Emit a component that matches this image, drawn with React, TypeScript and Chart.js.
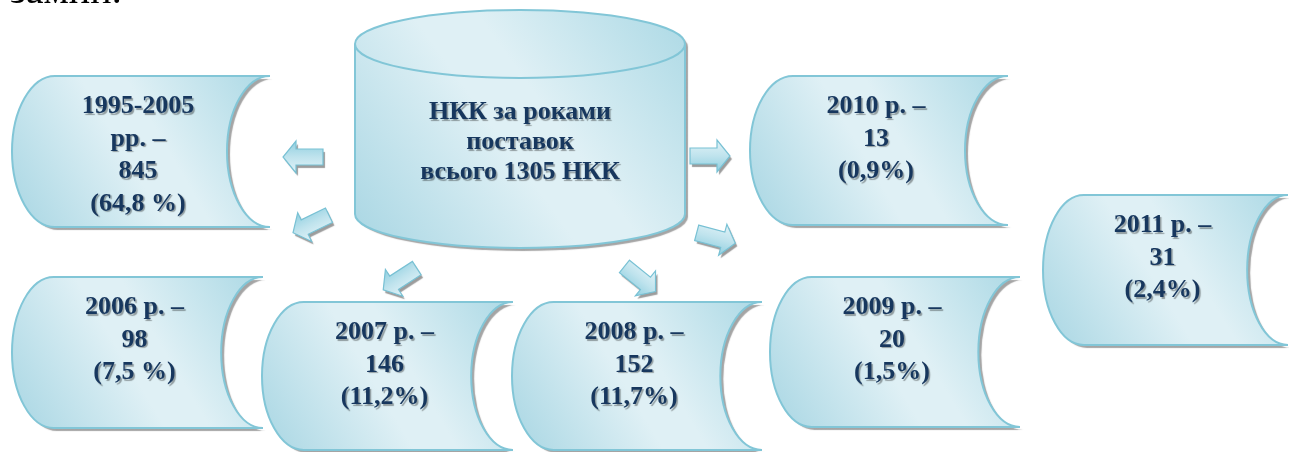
import React, { useEffect, useRef } from "react";
import { Chart, registerables } from "chart.js";

Chart.register(...registerables);

// ---- data ----
const periods = ["1995-2005", "2006", "2007", "2008", "2009", "2010", "2011"];
const periodUnits = ["рр.", "р.", "р.", "р.", "р.", "р.", "р."];
const counts = [845, 98, 146, 152, 20, 13, 31];
const shares = ["64,8 %", "7,5 %", "11,2%", "11,7%", "1,5%", "0,9%", "2,4%"];
const totalCount = 1305;
const centreTitle = ["НКК за роками", "поставок", `всього ${totalCount} НКК`];
const topFragment = "замин.";

// ---- layout (diagram coordinates, styling only) ----
const boxLayout = [
  { x0: 12, y0: 76, x1: 270, y1: 227, wrap: true },
  { x0: 12, y0: 277, x1: 263, y1: 428, wrap: false },
  { x0: 262, y0: 302, x1: 513, y1: 450, wrap: false },
  { x0: 512, y0: 302, x1: 762, y1: 450, wrap: false },
  { x0: 770, y0: 277, x1: 1020, y1: 427, wrap: false },
  { x0: 750, y0: 76, x1: 1008, y1: 225, wrap: false },
  { x0: 1043, y0: 195, x1: 1288, y1: 345, wrap: false },
];
const cylinderLayout = { x0: 355, x1: 685, yTop: 44, yBottom: 214, ry: 34 };
const arrowLayout = [
  { x: 303, y: 157, angle: 180 },
  { x: 311, y: 224, angle: 154 },
  { x: 400, y: 279, angle: 147 },
  { x: 640, y: 279, angle: 39 },
  { x: 710, y: 156, angle: 0 },
  { x: 716, y: 238, angle: 15 },
];

const TEXT_COLOR = "#17375e";
const BORDER = "#82c6d7";
const FONT = '"Liberation Serif", "Times New Roman", serif';

function boxLines(i: number): string[] {
  const l = boxLayout[i];
  if (l.wrap) {
    return [periods[i], `${periodUnits[i]} –`, `${counts[i]}`, `(${shares[i]})`];
  }
  return [`${periods[i]} ${periodUnits[i]} –`, `${counts[i]}`, `(${shares[i]})`];
}

function storedDataPath(ctx: CanvasRenderingContext2D, x0: number, y0: number, x1: number, y1: number) {
  const w = x1 - x0;
  const h = y1 - y0;
  const rx = w / 6;
  const ry = h / 2;
  const ym = (y0 + y1) / 2;
  ctx.beginPath();
  ctx.moveTo(x0 + rx, y0);
  ctx.lineTo(x1, y0);
  ctx.ellipse(x1, ym, rx, ry, 0, -Math.PI / 2, Math.PI / 2, true);
  ctx.lineTo(x0 + rx, y1);
  ctx.ellipse(x0 + rx, ym, rx, ry, 0, Math.PI / 2, Math.PI * 1.5, false);
  ctx.closePath();
}

function shapeGradient(ctx: CanvasRenderingContext2D, x0: number, y0: number, x1: number, y1: number) {
  const g = ctx.createLinearGradient(x0, y1, x1, y0);
  g.addColorStop(0, "#a8d6e3");
  g.addColorStop(0.45, "#dff0f5");
  g.addColorStop(0.58, "#dff0f5");
  g.addColorStop(1, "#acd9e5");
  return g;
}

function setShadow(ctx: CanvasRenderingContext2D, dx: number, dy: number, blur: number, color: string) {
  ctx.shadowColor = color;
  ctx.shadowOffsetX = dx;
  ctx.shadowOffsetY = dy;
  ctx.shadowBlur = blur;
}

function drawLines(ctx: CanvasRenderingContext2D, lines: string[], cx: number, firstBaseline: number, step: number) {
  ctx.save();
  ctx.font = `bold 26px ${FONT}`;
  ctx.fillStyle = TEXT_COLOR;
  ctx.textAlign = "center";
  ctx.textBaseline = "alphabetic";
  setShadow(ctx, 1.5, 1.5, 1, "rgba(0,0,0,0.35)");
  lines.forEach((t, k) => ctx.fillText(t, cx, firstBaseline + k * step));
  ctx.restore();
}

const diagramPlugin = {
  id: "diagram",
  afterDatasetsDraw(chart: any) {
    const ctx: CanvasRenderingContext2D = chart.ctx;
    const sx = chart.scales.x;
    const sy = chart.scales.y;
    const px = (v: number) => sx.getPixelForValue(v);
    const py = (v: number) => sy.getPixelForValue(v);
    const kx = px(1) - px(0);
    const ky = py(1) - py(0);

    // top text fragment (cut by the top edge)
    ctx.save();
    ctx.font = `40px ${FONT}`;
    ctx.fillStyle = "#000";
    ctx.textBaseline = "alphabetic";
    ctx.fillText(topFragment, px(10), py(3));
    ctx.restore();

    // cylinder
    const cylMeta = chart.getDatasetMeta(2);
    const cEl = cylMeta.data[0];
    {
      const c = cylinderLayout;
      const cx = cEl.x;
      const rx = ((c.x1 - c.x0) / 2) * kx;
      const ry = c.ry * ky;
      const yt = py(c.yTop);
      const yb = py(c.yBottom);
      const xl = cx - rx;
      const xr = cx + rx;
      ctx.save();
      ctx.beginPath();
      ctx.moveTo(xl, yt);
      ctx.lineTo(xl, yb);
      ctx.ellipse(cx, yb, rx, ry, 0, Math.PI, 0, true);
      ctx.lineTo(xr, yt);
      ctx.ellipse(cx, yt, rx, ry, 0, 0, Math.PI, true);
      ctx.closePath();
      ctx.save();
      setShadow(ctx, 3, 3, 1, "rgba(90,90,90,0.55)");
      ctx.fillStyle = shapeGradient(ctx, xl, yt - ry, xr, yb + ry);
      ctx.fill();
      ctx.restore();
      ctx.lineWidth = 2;
      ctx.strokeStyle = BORDER;
      ctx.stroke();
      ctx.beginPath();
      ctx.ellipse(cx, yt, rx, ry, 0, 0, Math.PI, false);
      ctx.stroke();
      ctx.restore();
      drawLines(ctx, centreTitle, cx, py(119), 30 * ky);
    }

    // arrows
    const arMeta = chart.getDatasetMeta(1);
    arMeta.data.forEach((el: any, i: number) => {
      const a = arrowLayout[i];
      const L = 40 * kx;
      const sw = 8 * ky;
      const hw = 16 * ky;
      const hl = 13 * kx;
      ctx.save();
      ctx.translate(el.x, el.y);
      ctx.rotate((a.angle * Math.PI) / 180);
      ctx.beginPath();
      ctx.moveTo(-L / 2, -sw);
      ctx.lineTo(L / 2 - hl, -sw);
      ctx.lineTo(L / 2 - hl, -hw);
      ctx.lineTo(L / 2, 0);
      ctx.lineTo(L / 2 - hl, hw);
      ctx.lineTo(L / 2 - hl, sw);
      ctx.lineTo(-L / 2, sw);
      ctx.closePath();
      const g = ctx.createLinearGradient(0, -hw, 0, hw);
      g.addColorStop(0, "#e2f3f8");
      g.addColorStop(0.5, "#bfe3ed");
      g.addColorStop(1, "#8fcfe0");
      ctx.save();
      setShadow(ctx, 2, 3, 1, "rgba(90,90,90,0.6)");
      ctx.fillStyle = g;
      ctx.fill();
      ctx.restore();
      ctx.lineWidth = 1.2;
      ctx.strokeStyle = "#78c1d4";
      ctx.stroke();
      ctx.restore();
    });

    // boxes
    const boxMeta = chart.getDatasetMeta(0);
    boxMeta.data.forEach((el: any, i: number) => {
      const l = boxLayout[i];
      const w = (l.x1 - l.x0) * kx;
      const h = (l.y1 - l.y0) * ky;
      const x0 = el.x - w / 2;
      const y0 = el.y - h / 2;
      const x1 = x0 + w;
      const y1 = y0 + h;
      ctx.save();
      storedDataPath(ctx, x0, y0, x1, y1);
      ctx.save();
      setShadow(ctx, 3, 3, 1, "rgba(90,90,90,0.55)");
      ctx.fillStyle = shapeGradient(ctx, x0, y0, x1, y1);
      ctx.fill();
      ctx.restore();
      ctx.lineWidth = 2;
      ctx.strokeStyle = BORDER;
      ctx.stroke();
      ctx.restore();
      drawLines(ctx, boxLines(i), el.x - 3 * kx, y0 + 37 * ky, 32.5 * ky);
    });
  },
};

export default function App() {
  const ref = useRef<HTMLCanvasElement>(null);
  useEffect(() => {
    document.body.style.margin = "0";
    const chart = new Chart(ref.current!, {
      type: "scatter",
      data: {
        datasets: [
          {
            label: "boxes",
            data: boxLayout.map((b) => ({ x: (b.x0 + b.x1) / 2, y: (b.y0 + b.y1) / 2 })),
            pointRadius: 0,
          },
          {
            label: "arrows",
            data: arrowLayout.map((a) => ({ x: a.x, y: a.y })),
            pointRadius: 0,
          },
          {
            label: "total",
            data: [{ x: (cylinderLayout.x0 + cylinderLayout.x1) / 2, y: (cylinderLayout.yTop + cylinderLayout.yBottom) / 2 }],
            pointRadius: 0,
          },
        ],
      },
      options: {
        animation: false,
        responsive: true,
        maintainAspectRatio: false,
        events: [],
        layout: { padding: 0 },
        plugins: { legend: { display: false }, tooltip: { enabled: false } },
        scales: {
          x: { type: "linear", min: 0, max: 1289, display: false },
          y: { type: "linear", min: 0, max: 452, reverse: true, display: false },
        },
      },
      plugins: [diagramPlugin],
    } as any);
    return () => chart.destroy();
  }, []);
  return (
    <div style={{ position: "fixed", left: 0, top: 0, width: "1289px", height: "452px", background: "#fff" }}>
      <canvas ref={ref} />
    </div>
  );
}
